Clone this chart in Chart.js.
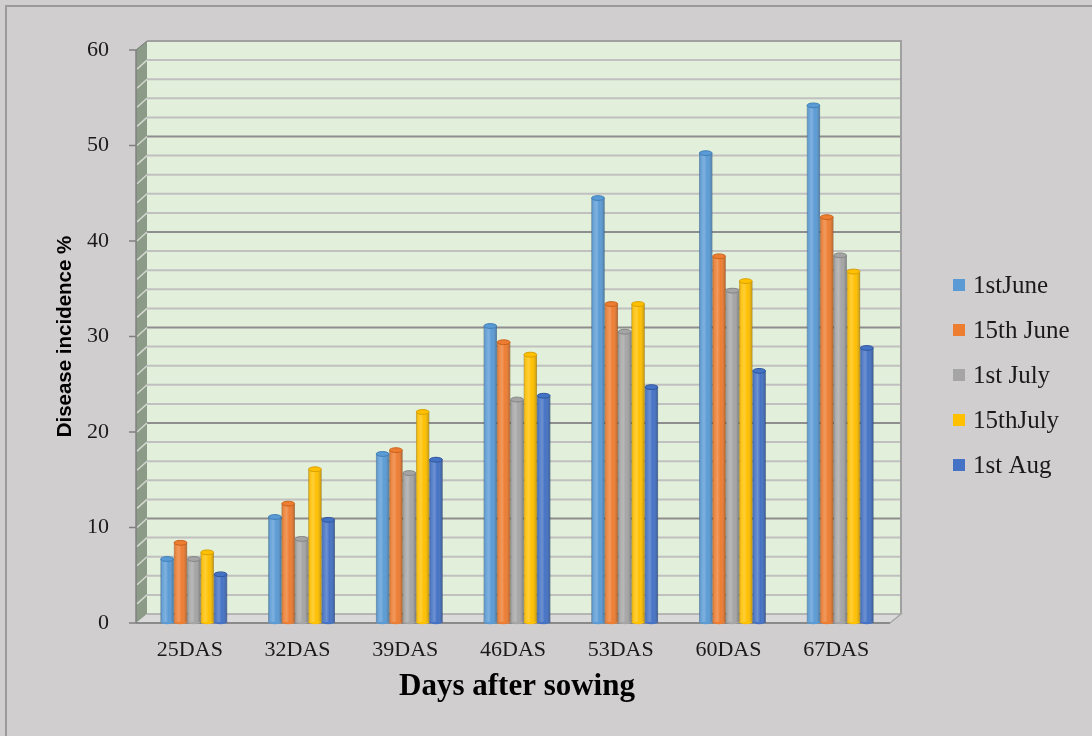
<!DOCTYPE html>
<html>
<head>
<meta charset="utf-8">
<script src="https://cdn.jsdelivr.net/npm/chart.js@4.4.0/dist/chart.umd.min.js"></script>
<style>
  html, body { margin: 0; padding: 0; background: #d0cece; }
  #wrap { width: 1092px; height: 736px; position: relative; }
  canvas { display: block; }
</style>
</head>
<body>
<div id="wrap"><canvas id="chart" width="1092" height="736"></canvas></div>
<script>
// Days after sowing (x categories)
const categories = ['25DAS', '32DAS', '39DAS', '46DAS', '53DAS', '60DAS', '67DAS'];

// Sowing dates (series names)
const sowingDates = ['1stJune', '15th June', '1st July', '15thJuly', '1st Aug'];

// Disease incidence % per sowing date
const june1  = [6.7, 11.1, 17.7, 31.1, 44.5, 49.2, 54.2];
const june15 = [8.4, 12.5, 18.1, 29.4, 33.4, 38.4, 42.5];
const july1  = [6.7,  8.8, 15.7, 23.4, 30.5, 34.8, 38.5];
const july15 = [7.4, 16.1, 22.1, 28.1, 33.4, 35.8, 36.8];
const aug1   = [5.1, 10.8, 17.1, 23.8, 24.7, 26.4, 28.8];

// Y axis ticks
const yTickValues = [0, 10, 20, 30, 40, 50, 60];

const seriesValues = [june1, june15, july1, july15, aug1];
const seriesColors = ['#5b9bd5', '#ed7d31', '#a5a5a5', '#ffc000', '#4472c4'];
const seriesEdges  = ['#3f7fb8', '#c9621c', '#858585', '#d9a000', '#2f56a0'];

const SERIF = "'Liberation Serif', 'Times New Roman', serif";
const SANS = "'Liberation Sans', Arial, sans-serif";

// depth offset of the back wall (pseudo 3D)
const DX = 11, DY = -9;
// the bars stand a little behind the front edge, so they sit slightly right of the walls' front
const SHIFT = 4;

const scenePlugin = {
  id: 'scene',
  beforeDraw(chart) {
    const ctx = chart.ctx;
    ctx.save();
    ctx.fillStyle = '#d0cece';
    ctx.fillRect(0, 0, chart.width, chart.height);
    ctx.strokeStyle = '#9a9a9a';
    ctx.lineWidth = 2;
    ctx.strokeRect(6, 6, chart.width + 20, chart.height + 20);
    ctx.restore();
  },
  beforeDatasetsDraw(chart) {
    const ctx = chart.ctx;
    const a = chart.chartArea;
    const L = a.left - SHIFT, R = a.right - SHIFT;
    const ys = chart.scales.y;
    const yMin = ys.getPixelForValue(ys.min);
    const yMax = ys.getPixelForValue(ys.max);
    ctx.save();

    // back wall
    ctx.fillStyle = '#e2efda';
    ctx.fillRect(L + DX, yMax + DY, R - L, yMin - yMax);

    // back wall gridlines (every 2 units, darker every 10)
    for (let v = ys.min + 2; v < ys.max; v += 2) {
      const py = ys.getPixelForValue(v) + DY;
      ctx.strokeStyle = v % 10 === 0 ? '#8e8e8e' : '#c0c0c0';
      ctx.lineWidth = 2;
      ctx.beginPath();
      ctx.moveTo(L + DX, py);
      ctx.lineTo(R + DX, py);
      ctx.stroke();
    }
    // top and right edge of back wall
    ctx.strokeStyle = '#a0a0a0';
    ctx.lineWidth = 2;
    ctx.beginPath();
    ctx.moveTo(L + DX, yMax + DY);
    ctx.lineTo(R + DX, yMax + DY);
    ctx.lineTo(R + DX, yMin + DY);
    ctx.stroke();

    // side wall
    ctx.fillStyle = '#8c9a88';
    ctx.beginPath();
    ctx.moveTo(L, yMax);
    ctx.lineTo(L + DX, yMax + DY);
    ctx.lineTo(L + DX, yMin + DY);
    ctx.lineTo(L, yMin);
    ctx.closePath();
    ctx.fill();
    ctx.strokeStyle = '#d2d8cf';
    ctx.lineWidth = 1.5;
    for (let v = ys.min + 2; v < ys.max; v += 2) {
      const py = ys.getPixelForValue(v);
      ctx.beginPath();
      ctx.moveTo(L + 1, py);
      ctx.lineTo(L + DX, py + DY);
      ctx.stroke();
    }
    ctx.strokeStyle = '#7a7a7a';
    ctx.lineWidth = 1;
    ctx.beginPath();
    ctx.moveTo(L, yMax);
    ctx.lineTo(L + DX, yMax + DY);
    ctx.stroke();

    // floor
    ctx.fillStyle = '#dadada';
    ctx.beginPath();
    ctx.moveTo(L, yMin);
    ctx.lineTo(L + DX, yMin + DY);
    ctx.lineTo(R + DX, yMin + DY);
    ctx.lineTo(R, yMin);
    ctx.closePath();
    ctx.fill();
    ctx.strokeStyle = '#a6a6a6';
    ctx.lineWidth = 1.5;
    ctx.beginPath();
    ctx.moveTo(L + DX, yMin + DY);
    ctx.lineTo(R + DX, yMin + DY);
    ctx.lineTo(R, yMin);
    ctx.stroke();
    ctx.strokeStyle = '#8a8a8a';
    ctx.lineWidth = 2;
    ctx.beginPath();
    ctx.moveTo(L, yMin);
    ctx.lineTo(R, yMin);
    ctx.stroke();

    // value axis line and outer tick marks
    ctx.strokeStyle = '#808080';
    ctx.lineWidth = 1.5;
    ctx.beginPath();
    ctx.moveTo(L, yMax);
    ctx.lineTo(L, yMin);
    ctx.stroke();
    ys.ticks.forEach(t => {
      const py = ys.getPixelForValue(t.value);
      ctx.beginPath();
      ctx.moveTo(L - 7, py);
      ctx.lineTo(L, py);
      ctx.stroke();
    });
    ctx.restore();
  },
  afterDatasetsDraw(chart) {
    // cylinder shading and elliptical caps on each bar
    const ctx = chart.ctx;
    ctx.save();
    chart.data.datasets.forEach((ds, di) => {
      const meta = chart.getDatasetMeta(di);
      meta.data.forEach(bar => {
        const { x, y, base, width } = bar.getProps(['x', 'y', 'base', 'width'], true);
        const l = x - width / 2;
        const g = ctx.createLinearGradient(l, 0, l + width, 0);
        g.addColorStop(0, 'rgba(0,0,0,0.22)');
        g.addColorStop(0.18, 'rgba(255,255,255,0.10)');
        g.addColorStop(0.38, 'rgba(255,255,255,0.22)');
        g.addColorStop(0.6, 'rgba(255,255,255,0.0)');
        g.addColorStop(1, 'rgba(0,0,0,0.28)');
        ctx.fillStyle = g;
        ctx.fillRect(l, y, width, base - y);
        // bottom rounding
        ctx.fillStyle = seriesColors[di];
        ctx.beginPath();
        ctx.ellipse(x, base - 1, width / 2, 2.2, 0, 0, Math.PI);
        ctx.fill();
        // top cap
        ctx.fillStyle = seriesColors[di];
        ctx.strokeStyle = seriesEdges[di];
        ctx.lineWidth = 1;
        ctx.beginPath();
        ctx.ellipse(x, y, width / 2 - 0.3, 2.4, 0, 0, Math.PI * 2);
        ctx.fill();
        ctx.stroke();
      });
    });
    ctx.restore();
  },
  afterDraw(chart) {
    // legend on the right
    const ctx = chart.ctx;
    ctx.save();
    ctx.font = '25px ' + SERIF;
    ctx.textBaseline = 'middle';
    ctx.textAlign = 'left';
    chart.data.datasets.forEach((ds, i) => {
      const yc = 285 + i * 45;
      ctx.fillStyle = ds.backgroundColor;
      ctx.fillRect(953, yc - 6, 12, 12);
      ctx.fillStyle = '#1a1a1a';
      ctx.fillText(ds.label, 973, yc + 1);
    });
    ctx.restore();
  }
};

new Chart(document.getElementById('chart'), {
  type: 'bar',
  data: {
    labels: categories,
    datasets: sowingDates.map((name, i) => ({
      label: name,
      data: seriesValues[i],
      backgroundColor: seriesColors[i],
      borderColor: seriesEdges[i],
      borderWidth: { left: 0.5, right: 0.5, top: 0, bottom: 0 },
      categoryPercentage: 0.62,
      barPercentage: 1.0
    }))
  },
  options: {
    responsive: false,
    animation: false,
    layout: { padding: { left: 53, right: 198, top: 50, bottom: 0 } },
    plugins: {
      legend: { display: false },
      tooltip: { enabled: false }
    },
    scales: {
      x: {
        grid: { display: false, drawTicks: false },
        border: { display: false },
        ticks: { font: { family: SERIF, size: 22 }, color: '#1a1a1a', padding: 14, labelOffset: -SHIFT },
        title: {
          display: true,
          text: 'Days after sowing',
          font: { family: SERIF, size: 31, weight: 'bold' },
          color: '#000',
          padding: { top: 0, bottom: 30 }
        },
        afterFit(s) { s.height = 113; }
      },
      y: {
        min: 0,
        max: 60,
        afterBuildTicks(s) { s.ticks = yTickValues.map(v => ({ value: v })); },
        grid: { display: false, drawTicks: false },
        border: { display: false },
        ticks: { font: { family: SERIF, size: 22 }, color: '#1a1a1a', padding: 31 },
        title: {
          display: true,
          text: 'Disease incidence %',
          font: { family: SANS, size: 20.5, weight: 'bold' },
          color: '#000',
          padding: { top: 0, bottom: 0 }
        },
        afterFit(s) { s.width = 87; }
      }
    }
  },
  plugins: [scenePlugin]
});
</script>
</body>
</html>
